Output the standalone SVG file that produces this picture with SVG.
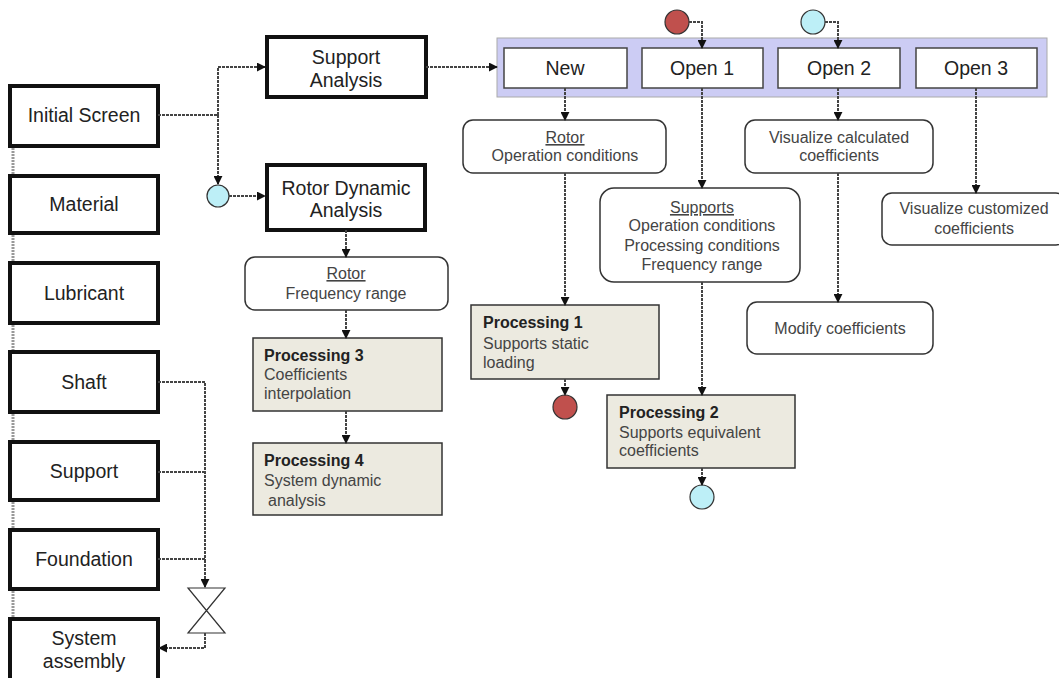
<svg xmlns="http://www.w3.org/2000/svg" width="1059" height="678" viewBox="0 0 1059 678">
<defs>
<marker id="ah" viewBox="0 0 10 10" refX="9" refY="5" markerWidth="9" markerHeight="9" markerUnits="userSpaceOnUse" orient="auto">
<path d="M0,0 L10,5 L0,10 z" fill="#111"/>
</marker>
<style>
.c{fill:none;stroke:#444;stroke-width:2;stroke-dasharray:3 1}
.ca{fill:none;stroke:#444;stroke-width:2;stroke-dasharray:3 1;marker-end:url(#ah)}
.rail{stroke:#999;stroke-width:3;stroke-dasharray:2 1}
.tb{fill:#fff;stroke:#111;stroke-width:4}
.rb{fill:#fff;stroke:#333;stroke-width:1.5}
.pb{fill:#ECEAE0;stroke:#333;stroke-width:1.5}
.ob{fill:#fff;stroke:#444;stroke-width:1.5}
.t{font-family:"Liberation Sans",Arial,sans-serif;font-size:19.5px;fill:#222;text-anchor:middle}
.s{font-family:"Liberation Sans",Arial,sans-serif;font-size:16px;fill:#444;text-anchor:middle}
.p{font-family:"Liberation Sans",Arial,sans-serif;font-size:16px;fill:#444}
.pbold{font-weight:bold;fill:#222}
</style>
</defs>
<rect width="1059" height="678" fill="#fff"/>

<g id="initial-screen"><rect class="tb" x="10" y="86" width="148" height="60"/><text class="t" x="84" y="122">Initial Screen</text></g>
<g id="material"><rect class="tb" x="10" y="176" width="148" height="57"/><text class="t" x="84" y="211">Material</text></g>
<g id="lubricant"><rect class="tb" x="10" y="263" width="148" height="60"/><text class="t" x="84" y="300">Lubricant</text></g>
<g id="shaft"><rect class="tb" x="10" y="352" width="148" height="60"/><text class="t" x="84" y="389">Shaft</text></g>
<g id="support"><rect class="tb" x="10" y="442" width="148" height="58"/><text class="t" x="84" y="478">Support</text></g>
<g id="foundation"><rect class="tb" x="10" y="530" width="148" height="59"/><text class="t" x="84" y="566">Foundation</text></g>
<g id="system-assembly"><rect class="tb" x="10" y="619" width="148" height="70"/><text class="t" x="84" y="645">System</text><text class="t" x="84" y="668">assembly</text></g>

<g id="start-circle"><circle cx="218" cy="196" r="11" fill="#BDEFF7" stroke="#333" stroke-width="1.2"/></g>

<g id="support-analysis"><rect class="tb" x="267" y="37" width="159" height="60"/><text class="t" x="346" y="64">Support</text><text class="t" x="346" y="87">Analysis</text></g>
<g id="rotor-dynamic-analysis"><rect class="tb" x="267" y="165" width="158" height="65"/><text class="t" x="346" y="195">Rotor Dynamic</text><text class="t" x="346" y="217">Analysis</text></g>

<g id="rotor-frequency"><rect class="rb" x="245" y="257" width="203" height="53" rx="10"/><text class="s" x="346" y="279" text-decoration="underline">Rotor</text><text class="s" x="346" y="299">Frequency range</text></g>
<g id="processing-3"><rect class="pb" x="253" y="338" width="189" height="73"/><text class="p" x="264" y="361"><tspan class="pbold">Processing 3</tspan></text><text class="p" x="264" y="380">Coefficients</text><text class="p" x="264" y="399">interpolation</text></g>
<g id="processing-4"><rect class="pb" x="253" y="443" width="189" height="72"/><text class="p" x="264" y="466"><tspan class="pbold">Processing 4</tspan></text><text class="p" x="264" y="486">System dynamic</text><text class="p" x="268" y="506">analysis</text></g>

<g id="support-menu">
<rect x="497" y="38" width="550" height="59" fill="#CCCCF4" stroke="#aaa" stroke-width="1"/>
</g>
<g id="new"><rect class="ob" x="504" y="48" width="123" height="40"/><text class="t" x="565" y="75">New</text></g>
<g id="open-1"><rect class="ob" x="642" y="48" width="121" height="40"/><text class="t" x="702" y="75">Open 1</text></g>
<g id="open-2"><rect class="ob" x="778" y="48" width="122" height="40"/><text class="t" x="839" y="75">Open 2</text></g>
<g id="open-3"><rect class="ob" x="916" y="48" width="121" height="40"/><text class="t" x="976" y="75">Open 3</text></g>

<g id="red-circle-top"><circle cx="677" cy="22" r="12" fill="#C0504D" stroke="#333" stroke-width="1.2"/></g>
<g id="blue-circle-top"><circle cx="813" cy="22" r="12" fill="#BDEFF7" stroke="#333" stroke-width="1.2"/></g>

<g id="rotor-operation"><rect class="rb" x="463" y="120" width="203" height="53" rx="10"/><text class="s" x="565" y="143" text-decoration="underline">Rotor</text><text class="s" x="565" y="161">Operation conditions</text></g>
<g id="processing-1"><rect class="pb" x="471" y="305" width="188" height="74"/><text class="p" x="483" y="328"><tspan class="pbold">Processing 1</tspan></text><text class="p" x="483" y="349">Supports static</text><text class="p" x="483" y="368">loading</text></g>
<g id="red-circle-end"><circle cx="565" cy="407" r="12" fill="#C0504D" stroke="#333" stroke-width="1.2"/></g>

<g id="supports-conditions"><rect class="rb" x="600" y="188" width="200" height="94" rx="14"/><text class="s" x="702" y="213" text-decoration="underline">Supports</text><text class="s" x="702" y="231">Operation conditions</text><text class="s" x="702" y="251">Processing conditions</text><text class="s" x="702" y="270">Frequency range</text></g>
<g id="processing-2"><rect class="pb" x="607" y="395" width="188" height="73"/><text class="p" x="619" y="418"><tspan class="pbold">Processing 2</tspan></text><text class="p" x="619" y="438">Supports equivalent</text><text class="p" x="619" y="456">coefficients</text></g>
<g id="blue-circle-end"><circle cx="702" cy="497" r="12" fill="#BDEFF7" stroke="#333" stroke-width="1.2"/></g>

<g id="visualize-calculated"><rect class="rb" x="745" y="120" width="188" height="53" rx="10"/><text class="s" x="839" y="143">Visualize calculated</text><text class="s" x="839" y="161">coefficients</text></g>
<g id="modify-coefficients"><rect class="rb" x="747" y="302" width="186" height="52" rx="10"/><text class="s" x="840" y="334">Modify coefficients</text></g>
<g id="visualize-customized"><rect class="rb" x="882" y="193" width="184" height="52" rx="10"/><text class="s" x="974" y="214">Visualize customized</text><text class="s" x="974" y="234">coefficients</text></g>

<g id="merge-gate"><path d="M188,588 L225,588 L188,633 L225,633 Z" fill="#fff" stroke="#333" stroke-width="1.2"/></g>

<g id="connectors">
<line class="rail" x1="13" y1="148" x2="13" y2="174"/>
<line class="rail" x1="13" y1="235" x2="13" y2="261"/>
<line class="rail" x1="13" y1="325" x2="13" y2="350"/>
<line class="rail" x1="13" y1="414" x2="13" y2="440"/>
<line class="rail" x1="13" y1="502" x2="13" y2="528"/>
<line class="rail" x1="13" y1="591" x2="13" y2="617"/>
<polyline class="c" points="158,115 218,115"/>
<polyline class="ca" points="218,115 218,67 265,67"/>
<polyline class="ca" points="218,115 218,184"/>
<polyline class="ca" points="229,196 265,196"/>
<polyline class="ca" points="426,67 497,67"/>
<polyline class="ca" points="346,230 346,257"/>
<polyline class="ca" points="346,310 346,338"/>
<polyline class="ca" points="346,411 346,443"/>
<polyline class="ca" points="689,22 702,22 702,48"/>
<polyline class="ca" points="825,22 838,22 838,48"/>
<polyline class="ca" points="565,88 565,120"/>
<polyline class="ca" points="565,173 565,305"/>
<polyline class="ca" points="565,379 565,395"/>
<polyline class="ca" points="702,88 702,188"/>
<polyline class="ca" points="702,282 702,395"/>
<polyline class="ca" points="702,468 702,485"/>
<polyline class="ca" points="838,88 838,120"/>
<polyline class="ca" points="838,173 838,302"/>
<polyline class="ca" points="976,88 976,193"/>
<polyline class="c" points="158,382 205,382 205,560"/>
<polyline class="c" points="158,472 205,472"/>
<polyline class="c" points="158,559 205,559"/>
<polyline class="ca" points="205,560 205,587"/>
<polyline class="ca" points="205,633 205,648 159,648"/>
</g>
</svg>
